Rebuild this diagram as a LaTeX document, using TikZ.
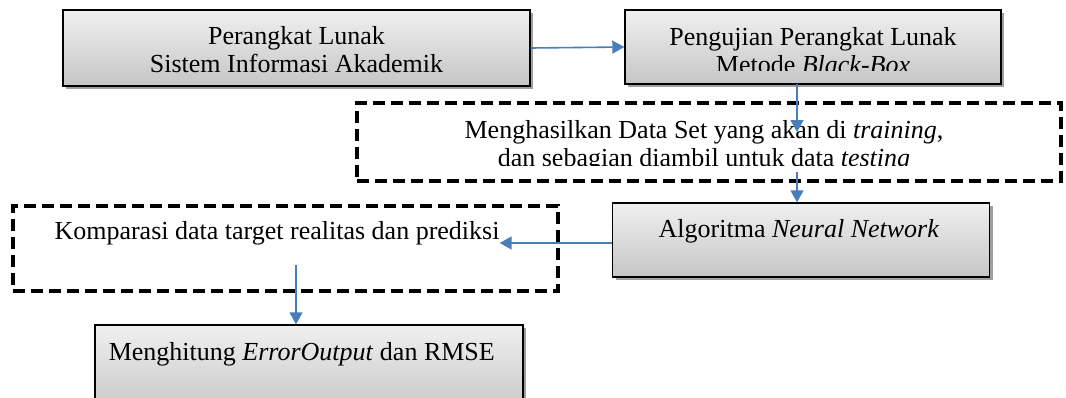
\documentclass[tikz,border=0pt]{standalone}
\usepackage{fontspec}
\setmainfont{Liberation Serif}
\usetikzlibrary{arrows.meta,shadows}
\definecolor{birupanah}{HTML}{4A7EBB}

\begin{document}
\begin{tikzpicture}[x=1pt, y=-1pt,
    kotak/.style={draw, line width=1.4pt, top color=gray!12, bottom color=gray!45, inner sep=0pt,
      drop shadow={shadow xshift=3pt, shadow yshift=-3pt, fill=gray!75, opacity=1}},
    putus/.style={draw, line width=3.5pt, dash pattern=on 12pt off 6pt, inner sep=0pt},
    teks/.style={font=\fontsize{26}{28}\selectfont, align=center, inner sep=0pt},
    panah/.style={draw=birupanah, line width=1.6pt, -{Triangle[width=13pt,length=12pt]}}]
    \useasboundingbox (0,0) rectangle (1066,397);

    % kotak proses
    \node[kotak, minimum width=467pt, minimum height=76pt] (lunak) at (296.5,48) {};
    \node[kotak, minimum width=376pt, minimum height=74pt] (uji) at (813,47) {};
    \node[kotak, minimum width=377pt, minimum height=74pt] (algo) at (801,240) {};
    \node[kotak, minimum width=428pt, minimum height=90pt] (hitung) at (309,370) {};

    % kotak putus-putus
    \node[putus, minimum width=704pt, minimum height=78pt] (dataset) at (709,142) {};
    \node[putus, minimum width=545pt, minimum height=85pt] (komparasi) at (285.5,248.5) {};

    \node[teks] (lunakT) at (296.5,50) {Perangkat Lunak\\Sistem Informasi Akademik};
    % baris kedua terpotong seperti aslinya
    \begin{scope}
      \clip (625,10) rectangle (1001,70);
      \node[teks] (ujiT) at (813,51) {Pengujian Perangkat Lunak\\Metode \textit{Black-Box}};
    \end{scope}
    \begin{scope}
      \clip (357,103) rectangle (1061,165);
      \node[teks] (datasetT) at (704,146) {Menghasilkan Data Set yang akan di \textit{training},\\dan sebagian diambil untuk data \textit{testing}};
    \end{scope}
    \node[teks] (algoT) at (799,231) {Algoritma \textit{Neural Network}};
    \node[teks] (komparasiT) at (277,233) {Komparasi data target realitas dan prediksi};
    \node[teks, anchor=east] (hitungT) at (495,354) {Menghitung \textit{ErrorOutput} dan RMSE};

    \coordinate (ujiBawah) at (797,84);
    \coordinate (ujungData) at (797,132);
    \coordinate (awalData) at (797,172);
    \coordinate (awalKomp) at (296,265);

    \draw[panah] (lunak.east) -- (uji.west);
    \draw[panah] (ujiBawah) -- (ujungData);
    \draw[panah] (awalData) -- (awalData |- algo.north);
    \draw[panah] ([yshift=-3pt]algo.west) -- ([yshift=-3pt]algo.west -| komparasiT.east);
    \draw[panah] (awalKomp) -- (awalKomp |- hitung.north);

\end{tikzpicture}
\end{document}
